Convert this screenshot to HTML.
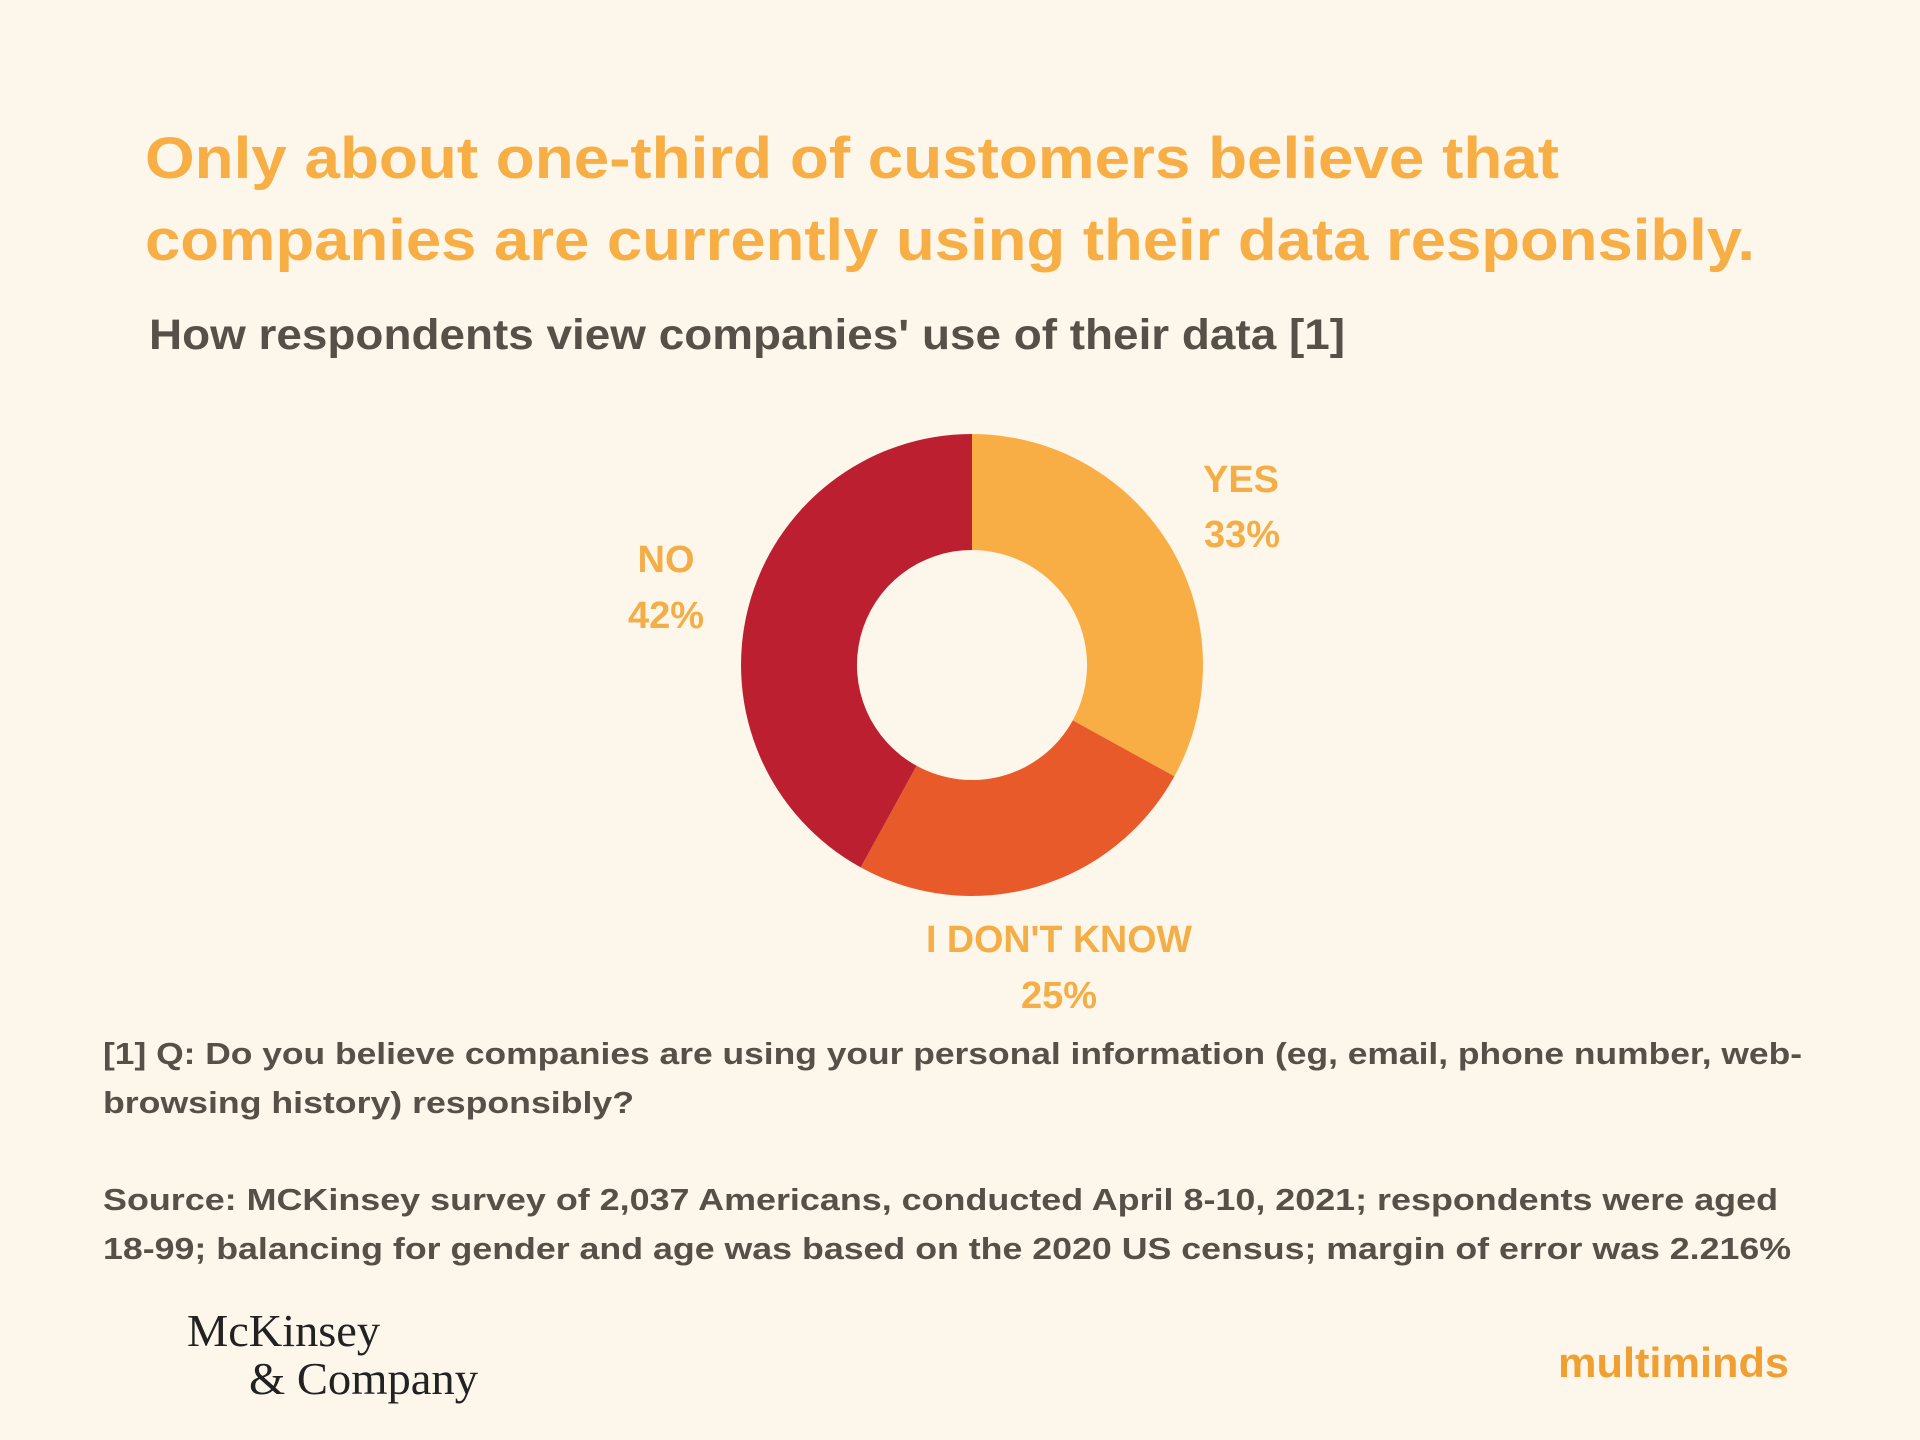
<!DOCTYPE html>
<html><head><meta charset="utf-8"><style>
html,body{margin:0;padding:0;background:#FDF6EA;}
svg{display:block;}
</style></head><body>
<svg width="1920" height="1440" viewBox="0 0 1920 1440" xmlns="http://www.w3.org/2000/svg">
<rect width="1920" height="1440" fill="#FDF6EA"/>
<g font-family="Liberation Sans, sans-serif" font-weight="bold">
<text x="145" y="178" font-size="58" fill="#F7AF45" textLength="1414" lengthAdjust="spacingAndGlyphs">Only about one-third of customers believe that</text>
<text x="145" y="260" font-size="58" fill="#F7AF45" textLength="1610" lengthAdjust="spacingAndGlyphs">companies are currently using their data responsibly.</text>
<text x="149" y="349" font-size="43" fill="#555048" textLength="1196" lengthAdjust="spacingAndGlyphs">How respondents view companies' use of their data [1]</text>

<path d="M972,434 A231,231 0 0 1 1174.4,776.3 L1072.8,720.4 A115,115 0 0 0 972,550 Z" fill="#F9AE45"/>
<path d="M1174.4,776.3 A231,231 0 0 1 860.7,867.4 L916.6,765.8 A115,115 0 0 0 1072.8,720.4 Z" fill="#E85A2A"/>
<path d="M860.7,867.4 A231,231 0 0 1 972,434 L972,550 A115,115 0 0 0 916.6,765.8 Z" fill="#BC1F2F"/>

<g font-size="38" fill="#F3AE47" text-anchor="middle">
<text x="1241" y="492">YES</text>
<text x="1242" y="547">33%</text>
<text x="666" y="572">NO</text>
<text x="666" y="628">42%</text>
<text x="1059" y="952" textLength="266" lengthAdjust="spacingAndGlyphs">I DON'T KNOW</text>
<text x="1059" y="1008">25%</text>
</g>

<g font-size="31" fill="#555048">
<text x="103" y="1064" textLength="1699" lengthAdjust="spacingAndGlyphs">[1] Q: Do you believe companies are using your personal information (eg, email, phone number, web-</text>
<text x="103" y="1113" textLength="531" lengthAdjust="spacingAndGlyphs">browsing history) responsibly?</text>
<text x="103" y="1210" textLength="1675" lengthAdjust="spacingAndGlyphs">Source: MCKinsey survey of 2,037 Americans, conducted April 8-10, 2021; respondents were aged</text>
<text x="103" y="1259" textLength="1688" lengthAdjust="spacingAndGlyphs">18-99; balancing for gender and age was based on the 2020 US census; margin of error was 2.216%</text>
</g>

<text x="1558" y="1377" font-size="42" fill="#F0A033" textLength="231" lengthAdjust="spacingAndGlyphs">multiminds</text>
</g>
<g font-family="Liberation Serif, serif" fill="#222">
<text x="187" y="1346" font-size="46" textLength="193" lengthAdjust="spacingAndGlyphs">McKinsey</text>
<text x="249" y="1394" font-size="46" textLength="229" lengthAdjust="spacingAndGlyphs">&amp; Company</text>
</g>
</svg>
</body></html>
